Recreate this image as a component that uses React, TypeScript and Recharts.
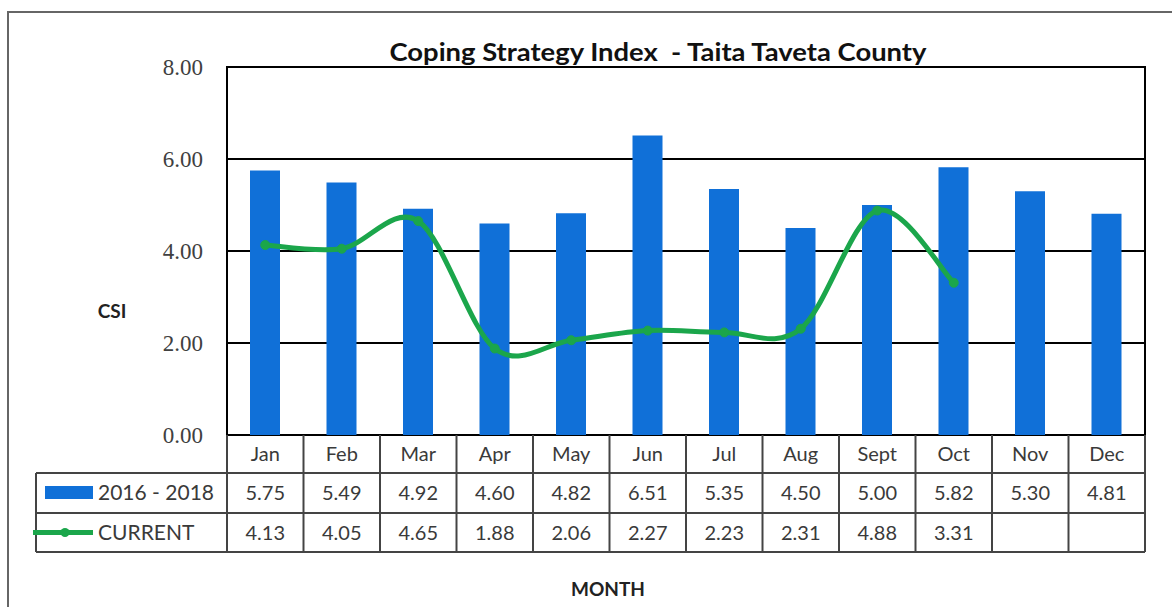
import React from 'react';
import { ComposedChart, Bar, Line, XAxis, YAxis, CartesianGrid, ReferenceArea } from 'recharts';

const months = ['Jan', 'Feb', 'Mar', 'Apr', 'May', 'Jun', 'Jul', 'Aug', 'Sept', 'Oct', 'Nov', 'Dec'];
const hist2016_2018 = [5.75, 5.49, 4.92, 4.60, 4.82, 6.51, 5.35, 4.50, 5.00, 5.82, 5.30, 4.81];
const current: (number | null)[] = [4.13, 4.05, 4.65, 1.88, 2.06, 2.27, 2.23, 2.31, 4.88, 3.31, null, null];
const yTicks = [0, 2, 4, 6, 8];
const seriesNames = ['2016 - 2018', 'CURRENT'];

const data = months.map((m, i) => ({ month: m, hist: hist2016_2018[i], cur: current[i] }));

const W = 1172;
const H = 607;
const TOP = 67;
const LEFT = 227;
const RIGHT = 27;
const PLOT_H = 368;
const PLOT_W = W - LEFT - RIGHT;
const BW = PLOT_W / months.length;
const ROW_H = [38, 40, 39];
const LEGEND_W = 191;

const BLUE = '#1070D8';
const GREEN = '#1BA64B';
const TEXT = '#3a3a3a';
const LINE = '#444';
const FONT = 'Lato, "Open Sans", sans-serif';

function excelCurve(context: any) {
  let pts: [number, number][] = [];
  return {
    areaStart() {},
    areaEnd() {},
    lineStart() { pts = []; },
    lineEnd() {
      if (!pts.length) return;
      context.moveTo(pts[0][0], pts[0][1]);
      const t = 1 / 6;
      for (let i = 0; i < pts.length - 1; i++) {
        const p0 = pts[i - 1] || pts[i];
        const p1 = pts[i];
        const p2 = pts[i + 1];
        const p3 = pts[i + 2] || p2;
        context.bezierCurveTo(
          p1[0] + (p2[0] - p0[0]) * t, p1[1] + (p2[1] - p0[1]) * t,
          p2[0] - (p3[0] - p1[0]) * t, p2[1] - (p3[1] - p1[1]) * t,
          p2[0], p2[1]
        );
      }
    },
    point(x: number, y: number) { pts.push([x, y]); },
  };
}

const TableTick = (props: any) => {
  const { x, payload } = props;
  const idx = payload?.index ?? props.index ?? months.indexOf(payload.value);
  const top = TOP + PLOT_H;
  const r1 = top + ROW_H[0];
  const r2 = r1 + ROW_H[1];
  const r3 = r2 + ROW_H[2];
  const left = x - BW / 2;
  const right = x + BW / 2;
  const h = hist2016_2018[idx];
  const c = current[idx];
  return (
    <g>
      <line x1={left} y1={top} x2={left} y2={r3} stroke={LINE} strokeWidth={2} />
      {idx === months.length - 1 && (
        <line x1={right} y1={top} x2={right} y2={r3} stroke={LINE} strokeWidth={2} />
      )}
      {idx === 0 && (
        <g>
          <line x1={left - LEGEND_W} y1={r1} x2={LEFT + PLOT_W} y2={r1} stroke={LINE} strokeWidth={2} />
          <line x1={left - LEGEND_W} y1={r2} x2={LEFT + PLOT_W} y2={r2} stroke={LINE} strokeWidth={2} />
          <line x1={left - LEGEND_W} y1={r3} x2={LEFT + PLOT_W} y2={r3} stroke={LINE} strokeWidth={2} />
          <line x1={left - LEGEND_W} y1={r1} x2={left - LEGEND_W} y2={r3} stroke={LINE} strokeWidth={2} />
          <rect x={left - LEGEND_W + 9} y={(r1 + r2) / 2 - 7} width={48} height={13} fill={BLUE} />
          <text x={left - LEGEND_W + 62} y={(r1 + r2) / 2 + 7} fontSize={21} fontFamily={FONT} fill={TEXT}>{seriesNames[0]}</text>
          <line x1={left - LEGEND_W - 3} y1={(r2 + r3) / 2} x2={left - LEGEND_W + 57} y2={(r2 + r3) / 2} stroke={GREEN} strokeWidth={5} />
          <circle cx={left - LEGEND_W + 29} cy={(r2 + r3) / 2} r={4.5} fill={GREEN} />
          <text x={left - LEGEND_W + 62} y={(r2 + r3) / 2 + 7} fontSize={21} fontFamily={FONT} fill={TEXT}>{seriesNames[1]}</text>
        </g>
      )}
      <text x={x} y={(top + r1) / 2 + 7} textAnchor="middle" fontSize={20} fontFamily={FONT} fill={TEXT}>{payload.value}</text>
      <text x={x} y={(r1 + r2) / 2 + 7} textAnchor="middle" fontSize={20} fontFamily={FONT} fill={TEXT}>{h.toFixed(2)}</text>
      {c != null && (
        <text x={x} y={(r2 + r3) / 2 + 7} textAnchor="middle" fontSize={20} fontFamily={FONT} fill={TEXT}>{c.toFixed(2)}</text>
      )}
    </g>
  );
};

export default function App() {
  return (
    <div style={{ position: 'absolute', left: 0, top: 0, width: W, height: H, background: '#fff' }}>
      <div style={{ position: 'absolute', left: 7, top: 11, width: W - 7, height: H - 11, borderLeft: '2px solid #666', borderTop: '2px solid #666', boxSizing: 'border-box' }} />
      <div style={{ position: 'absolute', left: 0, top: 0 }}>
        <ComposedChart width={W} height={H} data={data} margin={{ top: TOP, right: RIGHT, bottom: 0, left: 0 }}>
          <CartesianGrid vertical={false} stroke="#000" strokeWidth={2} />
          <XAxis dataKey="month" height={H - TOP - PLOT_H} axisLine={false} tickLine={false} interval={0} tick={<TableTick />} />
          <YAxis width={LEFT} domain={[0, 8]} ticks={yTicks} axisLine={false} tickLine={false} tickSize={0} tickMargin={24}
            tickFormatter={(v: number) => v.toFixed(2)}
            tick={{ fontSize: 23, fontFamily: '"Liberation Serif", serif', fill: '#404040' }} />
          <ReferenceArea y1={0} y2={8} fill="none" stroke="#000" strokeWidth={2} fillOpacity={0} />
          <Bar dataKey="hist" name={seriesNames[0]} fill={BLUE} barSize={30} isAnimationActive={false} />
          <Line dataKey="cur" name={seriesNames[1]} type={excelCurve as any} stroke={GREEN} strokeWidth={5}
            dot={{ r: 4.5, fill: GREEN, stroke: GREEN, strokeWidth: 1 }} activeDot={false} connectNulls={false} isAnimationActive={false} />
          <text x={658} y={61} textAnchor="middle" fontSize={25} fontWeight="bold" fontFamily={FONT} fill="#111" textLength={537} lengthAdjust="spacingAndGlyphs" style={{ whiteSpace: 'pre' }}>{'Coping Strategy Index  - Taita Taveta County'}</text>
          <text x={112} y={318} textAnchor="middle" fontSize={19} fontWeight="bold" fontFamily={FONT} fill="#222">CSI</text>
          <text x={608} y={596} textAnchor="middle" fontSize={19} fontWeight="bold" fontFamily={FONT} fill="#222">MONTH</text>
        </ComposedChart>
      </div>
    </div>
  );
}
